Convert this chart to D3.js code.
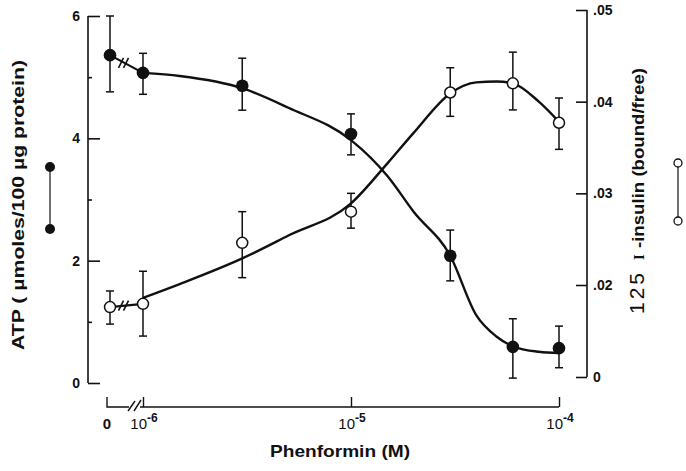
<!DOCTYPE html>
<html>
<head>
<meta charset="utf-8">
<script src="https://cdn.jsdelivr.net/npm/d3@7"></script>
<style>
  html, body { margin: 0; padding: 0; background: #fff; }
  svg { display: block; }
  text { font-family: "Liberation Sans", Arial, Helvetica, sans-serif; fill: #111; font-weight: bold; }
</style>
</head>
<body>
<svg id="chart" width="686" height="471"></svg>
<script>
// ---------- data ----------
const conc = [0, 1e-6, 3e-6, 1e-5, 3e-5, 6e-5, 1e-4];           // Phenformin (M)
const atpMean = [5.36, 5.07, 4.86, 4.07, 2.08, 0.59, 0.57];      // ATP, filled circles
const atpHi   = [6.00, 5.39, 5.31, 4.40, 2.50, 1.05, 0.93];
const atpLo   = [4.76, 4.72, 4.46, 3.73, 1.67, 0.08, 0.25];
const insMean = [0.0152, 0.0159, 0.0246, 0.0280, 0.0410, 0.0420, 0.0377]; // 125I-insulin, open circles
const insHi   = [0.0187, 0.0215, 0.0280, 0.0300, 0.0437, 0.0454, 0.0404];
const insLo   = [0.0115, 0.0089, 0.0208, 0.0262, 0.0384, 0.0391, 0.0348];

// drawn smooth curves
const curveConc = [1e-6, 1.5e-6, 3e-6, 5e-6, 1e-5, 1.5e-5, 2e-5, 3e-5, 4e-5, 5e-5, 6e-5, 8e-5, 1e-4];
const atpCurve  = [5.07, 5.02, 4.82, 4.50, 3.97, 3.38, 2.80, 2.08, 1.11, 0.76, 0.60, 0.51, 0.49];
const insCurve  = [0.0172, 0.0201, 0.0229, 0.0254, 0.0289, 0.0333, 0.0366, 0.0409, 0.0421, 0.0422, 0.0420, 0.0400, 0.0378];

// ticks
const xTickValues = [1e-6, 1e-5, 1e-4];
const xTickExps = ["-6", "-5", "-4"];
const leftMajor = [0, 2, 4, 6];
const leftMinor = [1, 3, 5];
const rightTicks = [0, 0.02, 0.03, 0.04, 0.05];
const rightTickLabels = ["0", ".02", ".03", ".04", ".05"];

// ---------- scales ----------
const svg = d3.select("#chart");
const x = d3.scaleLog().domain([1e-6, 1e-4]).range([143, 559]);
const xZero = 110;
const xPos = c => (c === 0 ? xZero : x(c));
const yL = d3.scaleLinear().domain([0, 6]).range([383, 16]);
// right axis is broken below .02 (0 sits one step under .02)
const yR = d3.scaleLinear().domain([0, 0.02, 0.05]).range([377, 285, 10]);

const ink = "#111";

// ---------- left axis ----------
const gL = svg.append("g").attr("transform", `translate(88,0)`);
gL.call(d3.axisLeft(yL).tickValues(leftMajor).tickSize(-12).tickPadding(8).tickFormat(d3.format("d")));
gL.append("g").call(d3.axisLeft(yL).tickValues(leftMinor).tickSize(-4).tickFormat(""))
  .select(".domain").remove();
gL.selectAll(".domain").attr("stroke", ink).attr("stroke-width", 1.6).attr("d", `M0,${yL(6)}V${yL(0)}`);
gL.selectAll(".tick line").attr("stroke", ink).attr("stroke-width", 1.6);
gL.selectAll(".tick text").style("font-size", "14px").style("font-weight", "bold").attr("fill", ink);

// ---------- right axis ----------
const gR = svg.append("g").attr("transform", `translate(587,0)`);
gR.call(d3.axisRight(yR).tickValues(rightTicks).tickSize(-11).tickPadding(6)
  .tickFormat((d, i) => rightTickLabels[i]));
gR.selectAll(".domain").attr("stroke", ink).attr("stroke-width", 1.6).attr("d", `M0,${yR(0.05)}V${yR(0)}`);
gR.selectAll(".tick line").attr("stroke", ink).attr("stroke-width", 1.6);
gR.selectAll(".tick text").style("font-size", "14px").style("font-weight", "bold").attr("fill", ink);

// ---------- bottom axis ----------
const axisY = 407;
const gX = svg.append("g").attr("transform", `translate(0,${axisY})`);
gX.call(d3.axisBottom(x).tickValues(xTickValues).tickSize(-10).tickSizeOuter(0).tickFormat(""));
gX.selectAll(".domain").attr("stroke", ink).attr("stroke-width", 1.4).attr("d", `M${x(1e-6) - 3},0H${x(1e-4)}`);
gX.selectAll(".tick line").attr("stroke", ink).attr("stroke-width", 1.4);
// zero segment with break
gX.append("path").attr("d", `M${xZero - 3},-10V0H${xZero + 19}`).attr("fill", "none").attr("stroke", ink).attr("stroke-width", 1.4);
gX.append("path").attr("d", `M${xZero + 18},4L${xZero + 25},-6M${xZero + 24},4L${xZero + 31},-7`)
  .attr("stroke", ink).attr("stroke-width", 1.4);

// x tick labels
const xl = svg.append("g").style("font-size", "15px");
xl.append("text").attr("x", xZero - 3).attr("y", 429).attr("text-anchor", "middle").text("0");
xTickValues.forEach((v, i) => {
  const t = xl.append("text").attr("x", x(v) + 1).attr("y", 429).attr("text-anchor", "middle");
  t.append("tspan").style("font-weight", "normal").text("10");
  t.append("tspan").attr("dy", -7).style("font-size", "12px").text(xTickExps[i]);
});

// axis titles
svg.append("text").attr("x", 340).attr("y", 457).attr("text-anchor", "middle")
  .style("font-size", "17px").attr("textLength", 140).attr("lengthAdjust", "spacingAndGlyphs")
  .text("Phenformin (M)");

svg.append("text").attr("transform", "translate(24,205) rotate(-90)").attr("text-anchor", "middle")
  .style("font-size", "16px").attr("textLength", 290).attr("lengthAdjust", "spacingAndGlyphs")
  .text("ATP ( \u00B5moles/100 \u00B5g protein)");

// right title: "125 I -insulin (bound/free)", reading bottom to top
const rt = svg.append("g").attr("transform", "translate(644,0) rotate(-90)");
rt.append("text").attr("x", -314).attr("y", 0).style("font-weight", "normal").style("font-size", "21px")
  .attr("letter-spacing", "3px").text("125");
rt.append("text").attr("x", -260).attr("y", 0).style("font-family", "'Liberation Serif', serif")
  .style("font-size", "15px").text("I");
rt.append("text").attr("x", -248).attr("y", 0).style("font-size", "17px")
  .attr("textLength", 180).attr("lengthAdjust", "spacingAndGlyphs").text("-insulin (bound/free)");

// legends
const legL = svg.append("g");
legL.append("line").attr("x1", 50).attr("x2", 50).attr("y1", 167).attr("y2", 229).attr("stroke", ink).attr("stroke-width", 1.2);
legL.selectAll("circle").data([167, 229]).join("circle").attr("cx", 50).attr("cy", d => d).attr("r", 5).attr("fill", ink);
const legR = svg.append("g");
legR.append("line").attr("x1", 678).attr("x2", 678).attr("y1", 163).attr("y2", 221).attr("stroke", ink).attr("stroke-width", 1.2);
legR.selectAll("circle").data([163, 221]).join("circle").attr("cx", 678).attr("cy", d => d).attr("r", 4)
  .attr("fill", "#fff").attr("stroke", ink).attr("stroke-width", 1.3);

// ---------- curves ----------
const plot = svg.append("g");
const lineL = d3.line().x((d, i) => x(curveConc[i])).y(d => yL(d)).curve(d3.curveMonotoneX);
const lineR = d3.line().x((d, i) => x(curveConc[i])).y(d => yR(d)).curve(d3.curveMonotoneX);
plot.append("path").attr("d", lineL(atpCurve)).attr("fill", "none").attr("stroke", ink).attr("stroke-width", 2.4);
plot.append("path").attr("d", lineR(insCurve)).attr("fill", "none").attr("stroke", ink).attr("stroke-width", 2.4);

// zero-to-first segments with break marks
function breakSeg(y0, y1) {
  const xa = xPos(conc[0]), xb = xPos(conc[1]);
  plot.append("line").attr("x1", xa).attr("y1", y0).attr("x2", xb).attr("y2", y1)
    .attr("stroke", ink).attr("stroke-width", 2.2);
  const xm = (xa + xb) / 2 - 2, ym = y0 + (y1 - y0) * ((xm - xa) / (xb - xa));
  plot.append("path").attr("d", `M${xm - 6},${ym + 5}L${xm - 1},${ym - 5}M${xm - 1},${ym + 5}L${xm + 4},${ym - 5}`)
    .attr("stroke", ink).attr("stroke-width", 1.6);
}
breakSeg(yL(atpMean[0]), yL(atpMean[1]));
breakSeg(yR(insMean[0]), yR(insMean[1]));

// ---------- error bars ----------
function errBars(lo, hi, yS) {
  const g = plot.append("g").attr("stroke", ink).attr("stroke-width", 1.5);
  conc.forEach((c, i) => {
    const cx = xPos(c);
    g.append("line").attr("x1", cx).attr("x2", cx).attr("y1", yS(hi[i])).attr("y2", yS(lo[i]));
    g.append("line").attr("x1", cx - 4).attr("x2", cx + 4).attr("y1", yS(hi[i])).attr("y2", yS(hi[i]));
    g.append("line").attr("x1", cx - 4).attr("x2", cx + 4).attr("y1", yS(lo[i])).attr("y2", yS(lo[i]));
  });
}
errBars(atpLo, atpHi, yL);
errBars(insLo, insHi, yR);

// ---------- markers ----------
plot.append("g").selectAll("circle").data(atpMean).join("circle")
  .attr("cx", (d, i) => xPos(conc[i])).attr("cy", d => yL(d)).attr("r", 6.3).attr("fill", ink);
plot.append("g").selectAll("circle").data(insMean).join("circle")
  .attr("cx", (d, i) => xPos(conc[i])).attr("cy", d => yR(d)).attr("r", 5.5)
  .attr("fill", "#fff").attr("stroke", ink).attr("stroke-width", 1.5);
</script>
</body>
</html>
